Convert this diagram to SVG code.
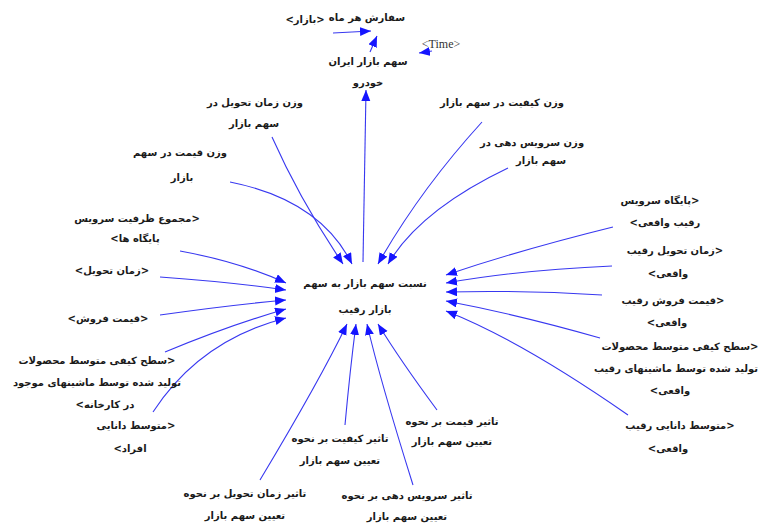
<svg xmlns="http://www.w3.org/2000/svg" width="759" height="524" viewBox="0 0 759 524">
<style>
text{font-family:"DejaVu Sans","Noto Sans",sans-serif;font-size:10px;font-weight:bold;fill:#1a1a1a;text-anchor:middle;direction:rtl}
text.en{font-family:"Liberation Serif",serif;font-weight:normal;font-size:12px;fill:#333;direction:ltr}
.c path{fill:none;stroke:#3838f0;stroke-width:1.1;marker-end:url(#ah)}
</style>
<defs>
<marker id="ah" markerUnits="userSpaceOnUse" markerWidth="12" markerHeight="10" refX="11" refY="4.5" orient="auto">
<path d="M0,0 L11,4.5 L0,9 z" fill="#1515ff"/>
</marker>
</defs>
<rect width="759" height="524" fill="#fff"/>
<g class="c" id="connectors">
<path d="M272,137 Q300,200 343,264"/>
<path d="M230,182 Q320,200 352,264"/>
<path d="M482,122 Q420,190 378,264"/>
<path d="M508,168 Q420,210 388,264"/>
<path d="M363,262 L366,90"/>
<path d="M180,251 Q240,262 286,283"/>
<path d="M160,277 Q230,282 286,290"/>
<path d="M160,315 Q230,305 286,300"/>
<path d="M165,352 Q230,325 286,309"/>
<path d="M153,412 Q200,340 286,318"/>
<path d="M613,227 Q520,250 446,275"/>
<path d="M612,266 Q520,270 446,283"/>
<path d="M602,295 Q520,290 446,292"/>
<path d="M600,338 Q520,315 446,301"/>
<path d="M628,415 Q520,340 446,311"/>
<path d="M260,480 Q320,380 347,324"/>
<path d="M345,425 Q350,370 356,324"/>
<path d="M413,485 Q380,380 367,324"/>
<path d="M437,410 Q400,360 378,324"/>
<path d="M333,33 L371,31"/>
<path d="M370,52 L377,36"/>
<path d="M432,51 L419,53"/>
</g>
<g id="n_order"><text x="367" y="21">سفارش هر ماه</text></g>
<g id="n_bazar"><text x="305" y="23">&lt;بازار&gt;</text></g>
<g id="n_time"><text class="en" x="441" y="48">&lt;Time&gt;</text></g>
<g id="n_iran"><text x="368" y="65">سهم بازار ایران</text><text x="368" y="86">خودرو</text></g>
<g id="n_w_delivery"><text x="255" y="106">وزن زمان تحویل در</text><text x="254" y="127">سهم بازار</text></g>
<g id="n_w_price"><text x="180" y="156">وزن قیمت در سهم</text><text x="182" y="181">بازار</text></g>
<g id="n_w_quality"><text x="502" y="106">وزن کیفیت در سهم بازار</text></g>
<g id="n_w_service"><text x="532" y="146">وزن سرویس دهی در</text><text x="541" y="164">سهم بازار</text></g>
<g id="n_center"><text x="365" y="287">نسبت سهم بازار به سهم</text><text x="365" y="313">بازار رقیب</text></g>
<g id="n_cap"><text x="137" y="222">&lt;مجموع ظرفیت سرویس</text><text x="135" y="242">پایگاه ها&gt;</text></g>
<g id="n_deliv"><text x="112" y="274">&lt;زمان تحویل&gt;</text></g>
<g id="n_price"><text x="108" y="322">&lt;قیمت فروش&gt;</text></g>
<g id="n_qual"><text x="97" y="364">&lt;سطح کیفی متوسط محصولات</text><text x="97" y="386">تولید شده توسط ماشینهای موجود</text><text x="105" y="408">در کارخانه&gt;</text></g>
<g id="n_know"><text x="136" y="429">&lt;متوسط دانایی</text><text x="130" y="452">افراد&gt;</text></g>
<g id="n_r_serv"><text x="660" y="204">&lt;پایگاه سرویس</text><text x="665" y="226">رقیب واقعی&gt;</text></g>
<g id="n_r_deliv"><text x="675" y="254">&lt;زمان تحویل رقیب</text><text x="668" y="277">واقعی&gt;</text></g>
<g id="n_r_price"><text x="673" y="304">&lt;قیمت فروش رقیب</text><text x="667" y="326">واقعی&gt;</text></g>
<g id="n_r_qual"><text x="680" y="350">&lt;سطح کیفی متوسط محصولات</text><text x="676" y="372">تولید شده توسط ماشینهای رقیب</text><text x="670" y="394">واقعی&gt;</text></g>
<g id="n_r_know"><text x="680" y="429">&lt;متوسط دانایی رقیب</text><text x="668" y="452">واقعی&gt;</text></g>
<g id="n_i_price"><text x="452" y="425">تاثیر قیمت بر نحوه</text><text x="452" y="445">تعیین سهم بازار</text></g>
<g id="n_i_qual"><text x="340" y="442">تاثیر کیفیت بر نحوه</text><text x="340" y="464">تعیین سهم بازار</text></g>
<g id="n_i_deliv"><text x="245" y="497">تاثیر زمان تحویل بر نحوه</text><text x="245" y="519">تعیین سهم بازار</text></g>
<g id="n_i_serv"><text x="407" y="499">تاثیر سرویس دهی بر نحوه</text><text x="407" y="520">تعیین سهم بازار</text></g>
</svg>
